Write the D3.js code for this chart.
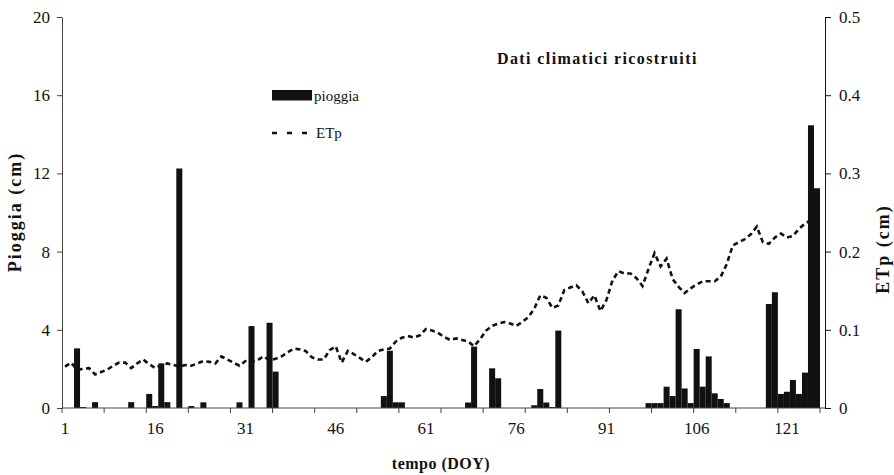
<!DOCTYPE html>
<html><head><meta charset="utf-8">
<script src="https://cdn.jsdelivr.net/npm/d3@7"></script>
<style>
body{margin:0;background:#fff}
svg{display:block}
text{font-family:"Liberation Serif","Times New Roman",serif;fill:#111}
</style>
</head><body><svg width="894" height="475"></svg>
<script>
// DOY categories 1..126
const doy = d3.range(1, 127);
// Pioggia (cm) per day
const pioggia = [
  0,0,3.05,0.05,0,0.3,0,0,0,0,
  0,0.3,0,0,0.72,0.1,2.28,0.3,0,12.25,
  0,0.1,0,0.29,0,0,0,0,0,0.29,
  0,4.19,0,0,4.36,1.86,0,0,0,0,
  0,0,0,0,0,0,0,0,0,0,
  0,0,0,0.61,2.93,0.29,0.29,0,0,0,
  0,0,0,0,0,0,0,0.28,3.14,0,
  0,2.03,1.52,0,0,0,0,0,0.14,0.97,
  0.28,0.05,3.96,0,0,0,0,0,0,0,
  0,0,0,0,0,0,0,0.25,0.25,0.25,
  1.09,0.61,5.05,1.0,0.25,3.02,1.09,2.64,0.75,0.46,
  0.25,0,0,0,0,0,0,5.32,5.92,0.72,
  0.83,1.43,0.72,1.81,14.46,11.24
];
// ETp (cm) per day
const etp = [
  0.053,0.058,0.049,0.050,0.051,0.043,0.046,0.049,0.054,0.058,
  0.058,0.051,0.057,0.062,0.056,0.051,0.055,0.057,0.055,0.053,
  0.055,0.054,0.057,0.060,0.059,0.057,0.066,0.062,0.058,0.054,
  0.060,0.059,0.061,0.066,0.061,0.063,0.066,0.071,0.076,0.075,
  0.073,0.065,0.062,0.062,0.074,0.079,0.058,0.073,0.069,0.064,
  0.059,0.065,0.073,0.075,0.076,0.085,0.090,0.092,0.090,0.093,
  0.101,0.099,0.096,0.091,0.087,0.089,0.087,0.085,0.079,0.088,
  0.099,0.105,0.108,0.110,0.108,0.105,0.110,0.116,0.127,0.144,
  0.141,0.128,0.131,0.151,0.154,0.157,0.149,0.134,0.144,0.124,
  0.138,0.163,0.175,0.172,0.172,0.166,0.156,0.178,0.198,0.181,
  0.191,0.165,0.155,0.147,0.153,0.158,0.162,0.162,0.162,0.168,
  0.184,0.208,0.212,0.216,0.222,0.232,0.212,0.210,0.218,0.223,
  0.218,0.220,0.229,0.236,0.240,0.245
];
const xLabelDays = [1,16,31,46,61,76,91,106,121];
const xTickDays = [1,8,15,22,29,36,43,50,57,64,71,78,85,92,99,106,113,120];
const leftTicks = [0,4,8,12,16,20];
const rightTicks = [0,0.1,0.2,0.3,0.4,0.5];

const svg = d3.select("svg");
const x = d3.scaleBand().domain(doy).range([62, 820]).padding(0);
const yL = d3.scaleLinear().domain([0, 20]).range([408, 17]);
const yR = d3.scaleLinear().domain([0, 0.5]).range([408, 17]);
const bw = x.bandwidth();
const rightAxisX = 825;

// bars
svg.append("g").selectAll("rect")
  .data(doy.filter((d,i) => pioggia[i] > 0))
  .join("rect")
  .attr("x", d => x(d))
  .attr("width", bw)
  .attr("y", d => yL(pioggia[d-1]))
  .attr("height", d => yL(0) - yL(pioggia[d-1]))
  .attr("fill", "#111");

// ETp line
const line = d3.line().x((v,i) => x(doy[i]) + bw/2).y(v => yR(v));
svg.append("path").datum(etp)
  .attr("d", line)
  .attr("fill", "none")
  .attr("stroke", "#111")
  .attr("stroke-width", 2.6)
  .attr("stroke-dasharray", "5,3.5");

// bottom axis line + ticks
svg.append("line").attr("x1", x.range()[0]).attr("x2", rightAxisX)
  .attr("y1", yL(0)).attr("y2", yL(0)).attr("stroke", "#444").attr("stroke-width", 1);
const tickXs = xTickDays.map(d => x(d)).concat([x.range()[1]]);
svg.append("g").selectAll("line").data(tickXs).join("line")
  .attr("x1", d => d).attr("x2", d => d)
  .attr("y1", yL(0)).attr("y2", yL(0) + 5)
  .attr("stroke", "#444");
svg.append("g").selectAll("text").data(xLabelDays).join("text")
  .attr("x", d => x(d) + bw/2).attr("y", 434)
  .attr("text-anchor", "middle").attr("font-size", 17)
  .text(d => d);

// left axis
const gL = svg.append("g").attr("transform", "translate(62,0)")
  .call(d3.axisLeft(yL).tickValues(leftTicks).tickSize(5).tickSizeOuter(0).tickPadding(7));
gL.selectAll("path,line").attr("stroke", "#444");
gL.selectAll("text").attr("font-size", 17).attr("font-family", "Liberation Serif").attr("fill", "#111");

// right axis
const gR = svg.append("g").attr("transform", `translate(${rightAxisX},0)`)
  .call(d3.axisRight(yR).tickValues(rightTicks).tickSize(6).tickSizeOuter(0).tickPadding(8)
    .tickFormat(d => d === 0 ? "0" : d.toFixed(1)));
gR.selectAll("path,line").attr("stroke", "#111");
gR.selectAll("text").attr("font-size", 17).attr("font-family", "Liberation Serif").attr("fill", "#111");

// titles
svg.append("text").attr("x", 497).attr("y", 64)
  .attr("font-size", 16).attr("font-weight", "bold").attr("letter-spacing", 1.4)
  .text("Dati climatici ricostruiti");
svg.append("text").attr("x", 441).attr("y", 469).attr("text-anchor", "middle")
  .attr("font-size", 16).attr("font-weight", "bold").attr("letter-spacing", 0.5)
  .text("tempo (DOY)");
svg.append("text").attr("transform", "translate(21,212) rotate(-90)")
  .attr("text-anchor", "middle").attr("font-size", 18).attr("font-weight", "bold")
  .attr("letter-spacing", 2).text("Pioggia (cm)");
svg.append("text").attr("transform", "translate(889,249) rotate(-90)")
  .attr("text-anchor", "middle").attr("font-size", 18).attr("font-weight", "bold")
  .attr("letter-spacing", 2).text("ETp (cm)");

// legend
const lg = svg.append("g");
lg.append("rect").attr("x", 272).attr("y", 90).attr("width", 40).attr("height", 10.5).attr("fill", "#111");
lg.append("text").attr("x", 314).attr("y", 101).attr("font-size", 15).text("pioggia");
lg.append("line").attr("x1", 272).attr("x2", 308).attr("y1", 133).attr("y2", 133)
  .attr("stroke", "#111").attr("stroke-width", 2.4).attr("stroke-dasharray", "5,10");
lg.append("text").attr("x", 316).attr("y", 138).attr("font-size", 15).text("ETp");
</script>
</body></html>
